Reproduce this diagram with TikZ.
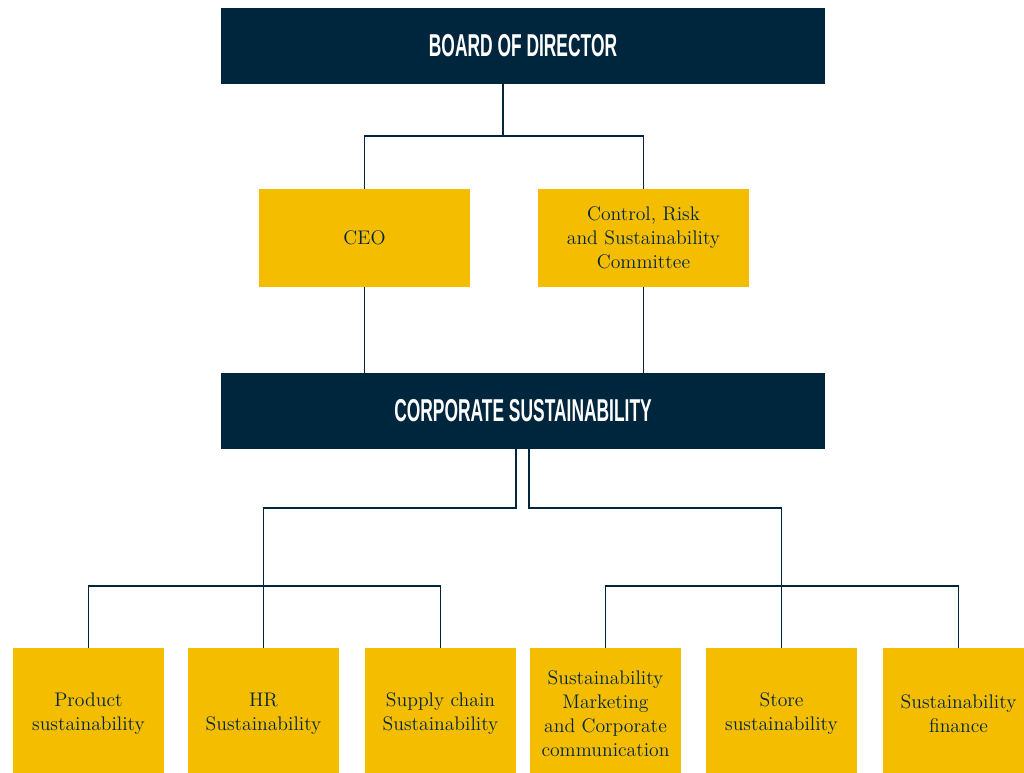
\documentclass[tikz,border=0pt]{standalone}
\usepackage{fontspec}
\newfontfamily\headfont[FakeStretch=0.55]{Liberation Sans}
\usetikzlibrary{positioning}
\definecolor{navy}{RGB}{0,38,62}
\definecolor{gold}{RGB}{245,189,0}
\tikzset{
  headbox/.style = {fill=navy, text=white, minimum width=15.1cm, minimum height=1.9cm, inner sep=0pt, font=\headfont\bfseries\fontsize{22.5}{26}\selectfont},
  midbox/.style  = {fill=gold, text=navy, minimum width=5.275cm, minimum height=2.45cm, inner sep=0pt, align=center, font=\fontsize{14}{17}\selectfont},
  unitbox/.style = {fill=gold, text=navy, minimum width=3.775cm, minimum height=3.3cm, inner sep=0pt, align=center, font=\fontsize{14}{17}\selectfont},
  link/.style    = {draw=navy, line width=0.75pt}
}

\begin{document}
\begin{tikzpicture}[x=0.025cm, y=-0.025cm]
  \useasboundingbox (0,0) rectangle (1024,773);
  \node[headbox] (board) at (523,46) {BOARD OF DIRECTOR};
  \node[midbox] (ceo) at (364.5,238) {CEO};
  \node[midbox] (crs) at (643.5,238) {Control, Risk\\ and Sustainability\\ Committee};
  \node[headbox] (corp) at (523,411) {CORPORATE SUSTAINABILITY};
  % units
  \node[unitbox] (prod)   at (88.5,714)  {Product\\ sustainability};
  \node[unitbox] (hr)     at (263.5,714) {HR\\ Sustainability};
  \node[unitbox] (supply) at (440.5,714) {Supply chain\\ Sustainability};
  \node[unitbox] (mkt)    at (605.5,714) {Sustainability\\ Marketing\\ and Corporate\\ communication};
  \node[unitbox] (store)  at (781.5,714) {Store\\ sustainability};
  \node[unitbox] (fin)    at (958.5,714) {Sustainability\\ finance};
  % connectors
  \coordinate (bj) at (503,136);
  \draw[link] (ceo.north) |- (bj) -| (crs.north);
  \draw[link] (bj) -- (bj |- board.south);
  \draw[link] (ceo.south) -- (ceo.south |- corp.north);
  \draw[link] (crs.south) -- (crs.south |- corp.north);
  \coordinate (lj) at (516,508);
  \coordinate (rj) at (529,508);
  \draw[link] (lj |- corp.south) -- (lj) -| (hr.north);
  \draw[link] (rj |- corp.south) -- (rj) -| (store.north);
  \coordinate (lh) at (263.5,586);
  \coordinate (rh) at (781.5,586);
  \draw[link] (prod.north) |- (lh) -| (supply.north);
  \draw[link] (mkt.north) |- (rh) -| (fin.north);
\end{tikzpicture}
\end{document}
